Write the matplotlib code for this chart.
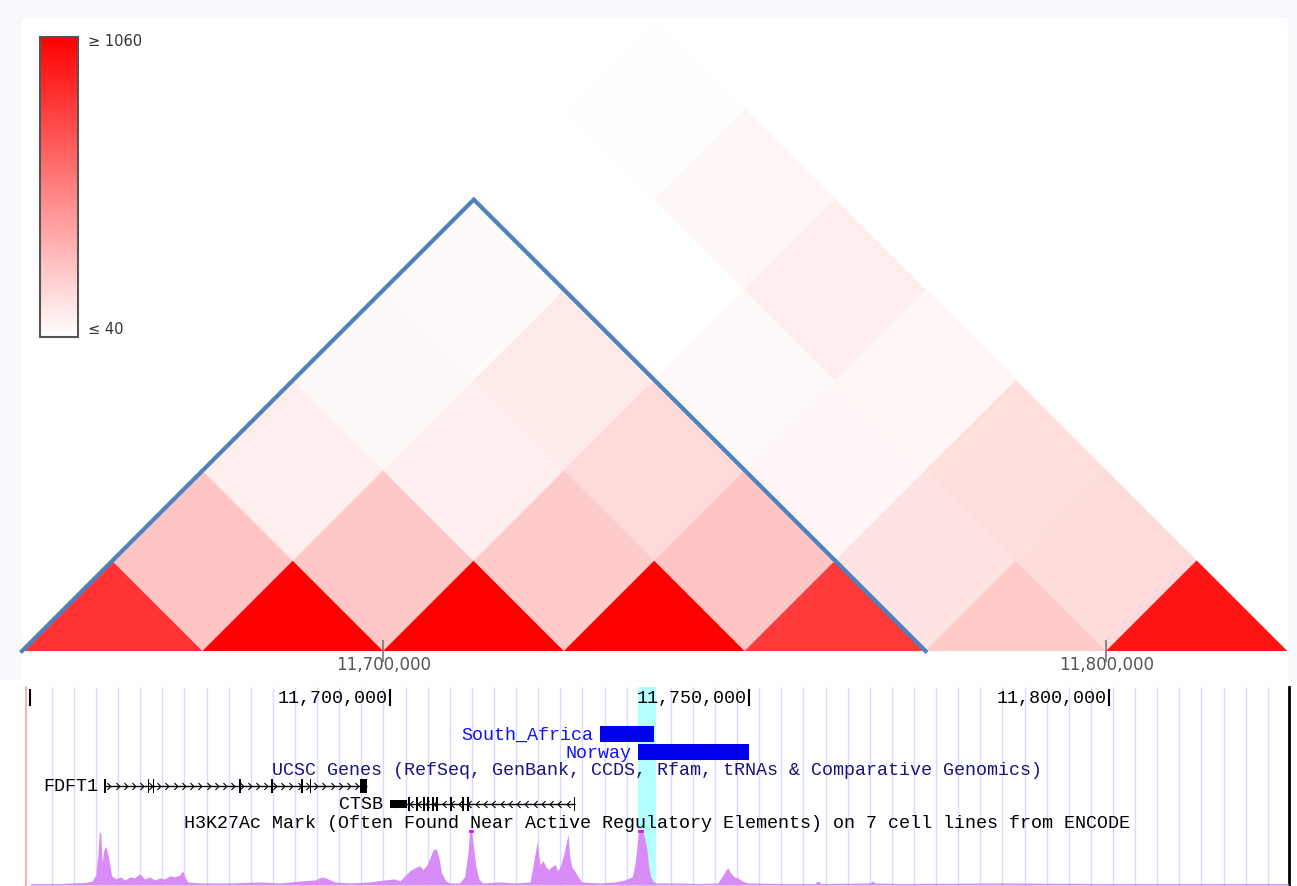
import numpy as np
import matplotlib
matplotlib.use("Agg")
import matplotlib.pyplot as plt
from matplotlib.cm import ScalarMappable
from matplotlib.collections import PolyCollection
from matplotlib.colors import LinearSegmentedColormap, Normalize
from matplotlib.patches import Rectangle
from matplotlib.path import Path
from matplotlib.ticker import FuncFormatter

W, H = 1297, 887

# contact map: 25 kb bins, upper triangle row by row (diagonal first)
bin_start = 11_650_000
bin_size = 25_000
contacts = [
    [856, 272, 108, 70, 62, 30, 50],
    [1240, 260, 108, 124, 35, 78],
    [1190, 254, 188, 62, 112],
    [1310, 272, 75, 78],
    [825, 156, 172],
    [254, 180],
    [980],
]
vmin, vmax = 40, 1060
tad_bins = (0, 4)
map_ticks = [11_700_000, 11_800_000]

# browser tracks
view = (11_649_400, 11_825_070)
ruler_ticks = [11_650_000, 11_700_000, 11_750_000, 11_800_000]
ruler_labels = ["", "11,700,000", "11,750,000", "11,800,000"]
highlight = (11_734_500, 11_737_000)
cnv_names = ["South_Africa", "Norway"]
cnv_starts = [11_729_200, 11_734_500]
cnv_ends = [11_736_800, 11_750_000]
genes_title = "UCSC Genes (RefSeq, GenBank, CCDS, Rfam, tRNAs & Comparative Genomics)"
fdft1_span = (11_660_400, 11_696_800)
fdft1_exons = [(11_660_300, 11_660_500), (11_666_350, 11_666_550),
               (11_667_050, 11_667_250), (11_679_050, 11_679_250),
               (11_683_500, 11_683_700), (11_687_700, 11_687_900),
               (11_688_850, 11_689_050), (11_695_900, 11_696_800)]
ctsb_span = (11_700_000, 11_725_700)
ctsb_utr = (11_700_000, 11_702_400)
ctsb_exons = [(11_702_550, 11_702_750), (11_703_680, 11_703_880),
              (11_704_650, 11_704_850), (11_705_200, 11_705_400),
              (11_705_900, 11_706_100), (11_706_450, 11_706_650),
              (11_708_400, 11_708_600), (11_710_070, 11_710_270),
              (11_710_770, 11_710_970), (11_725_600, 11_725_800)]
signal_title = ("H3K27Ac Mark (Often Found Near Active Regulatory Elements) "
                "on 7 cell lines from ENCODE")
signal_kb = [
    11650.0, 11654.1, 11657.6, 11658.6, 11659.1, 11659.4, 11659.6, 11659.8, 11660.0, 11660.2,
    11660.5, 11660.8, 11661.1, 11661.3, 11661.9, 11662.5, 11663.2, 11663.9, 11664.5, 11665.2,
    11665.9, 11666.6, 11667.3, 11668.0, 11668.7, 11669.4, 11670.1, 11670.8, 11671.2, 11671.5,
    11671.9, 11673.6, 11677.8, 11681.9, 11684.7, 11687.5, 11689.6, 11690.6, 11691.4, 11692.4,
    11694.5, 11697.2, 11699.3, 11700.7, 11701.4, 11702.1, 11702.8, 11703.5, 11704.2, 11704.6,
    11705.2, 11705.6, 11706.0, 11706.4, 11706.8, 11707.2, 11707.8, 11708.4, 11709.7, 11710.4,
    11710.9, 11711.1, 11711.3, 11711.6, 11712.0, 11712.4, 11712.9, 11715.3, 11717.4, 11719.5,
    11719.9, 11720.2, 11720.5, 11720.7, 11720.9, 11721.3, 11721.7, 11722.1, 11722.5, 11723.0,
    11723.4, 11723.8, 11724.2, 11724.5, 11724.8, 11725.0, 11725.3, 11725.7, 11726.2, 11726.7,
    11729.2, 11731.3, 11732.7, 11733.7, 11734.1, 11734.4, 11734.6, 11734.9, 11735.2, 11735.5,
    11735.8, 11736.0, 11736.3, 11736.6, 11737.0, 11740.3, 11743.1, 11745.6, 11746.2, 11746.7,
    11747.0, 11747.4, 11747.9, 11748.4, 11749.0, 11749.8, 11754.3, 11759.1, 11759.5, 11760.0,
    11766.8, 11767.1, 11767.5, 11771.0, 11784.9, 11798.8, 11812.7, 11825.0,
]
signal_val = [
    1.5, 1.5, 2.5, 4, 10, 30, 53, 50, 22, 34,
    38, 30, 18, 9, 6, 8, 5, 8, 7, 11,
    6, 8, 5, 7, 6, 9, 8, 10, 14, 8,
    3, 2, 2, 3, 2, 4, 5, 8, 6, 3,
    2, 3, 5, 6, 4, 9, 14, 17, 19, 15,
    20, 27, 34, 36, 28, 12, 4, 2, 2, 8,
    33, 53, 56, 40, 17, 6, 2, 3, 2, 3,
    18, 30, 43, 30, 20, 24, 18, 15, 18, 20,
    14, 20, 30, 40, 50, 30, 18, 14, 8, 3,
    2, 3, 5, 8, 20, 40, 53, 57, 52, 45,
    33, 18, 8, 4, 2, 2, 1.5, 2, 8, 14,
    17, 12, 8, 7, 4, 2, 1.5, 1.5, 4, 1.5,
    2, 4, 2, 1.5, 2, 1.5, 1.5, 1.5,
]
signal_max = 54

MONO = "Liberation Mono"


def fx(px):
    return px / W


def fy(py):
    return 1 - py / H


fig = plt.figure(figsize=(W / 100, H / 100), dpi=100)
fig.patch.set_facecolor("white")
fig.patches.append(Rectangle((0, fy(680)), 1, 1 - fy(680), transform=fig.transFigure,
                             color="#f8f9fc", zorder=-10))
fig.patches.append(Rectangle((fx(22), fy(680)), fx(1265), fy(20) - fy(680),
                             transform=fig.transFigure, color="white", zorder=-9))

# ---------- triangular contact map ----------
cmap = LinearSegmentedColormap.from_list("white_red", ["#ffffff", "#ff0000"])
norm = Normalize(vmin, vmax, clip=True)
n = len(contacts)
edges = bin_start + bin_size * np.arange(n + 1)

hm = fig.add_axes([fx(22), fy(652), fx(1265), fy(20) - fy(652)])
hm.set_facecolor("none")
polys, vals = [], []
for i, row in enumerate(contacts):
    for k, v in enumerate(row):
        j = i + k
        a0, a1, b0, b1 = edges[i], edges[i + 1], edges[j], edges[j + 1]
        if i == j:
            verts = [(a0, 0), ((a0 + a1) / 2, (a1 - a0) / 2), (a1, 0)]
        else:
            verts = [((a0 + b0) / 2, (b0 - a0) / 2), ((a1 + b0) / 2, (b0 - a1) / 2),
                     ((a1 + b1) / 2, (b1 - a1) / 2), ((a0 + b1) / 2, (b1 - a0) / 2)]
        polys.append(verts)
        vals.append(v)
pc = PolyCollection(polys, array=np.array(vals, dtype=float), cmap=cmap, norm=norm,
                    edgecolors="face", linewidths=0.3)
hm.add_collection(pc)

t0, t1 = edges[tad_bins[0]], edges[tad_bins[1] + 1]
hm.plot([t0, (t0 + t1) / 2, t1], [0, (t1 - t0) / 2, 0], color="#4f81bd", lw=3,
        solid_joinstyle="miter", clip_on=False, zorder=5)

hm.set_xlim(edges[0], edges[-1])
hm.set_ylim(0, (edges[-1] - edges[0]) / 2)
for s in hm.spines.values():
    s.set_visible(False)
hm.set_yticks([])
hm.set_xticks(map_ticks)
hm.xaxis.set_major_formatter(FuncFormatter(lambda x, _: f"{x:,.0f}"))
hm.tick_params(axis="x", direction="inout", length=16, width=1.2, color="#777777",
               labelcolor="#555555", labelsize=12, pad=-5)

# colour key
cax = fig.add_axes([fx(40), fy(338), fx(38), fy(38) - fy(338)])
cb = fig.colorbar(ScalarMappable(norm=norm, cmap=cmap), cax=cax)
cb.set_ticks([])
cb.outline.set_edgecolor("#555555")
cb.outline.set_linewidth(1.5)
cax.text(1.25, 0.99, f"\u2265 {vmax}", transform=cax.transAxes, ha="left", va="center",
         fontsize=10.5, color="#333333")
cax.text(1.25, 0.03, f"\u2264 {vmin}", transform=cax.transAxes, ha="left", va="center",
         fontsize=10.5, color="#333333")

# ---------- browser tracks ----------
tr = fig.add_axes([fx(26), 0, fx(1289 - 26), fy(688)])
tr.set_xlim(*view)
tr.set_ylim(199, 0)
tr.set_facecolor("none")
tr.set_xticks([])
tr.set_yticks([])
tr.spines["top"].set_visible(False)
tr.spines["bottom"].set_visible(False)
tr.spines["left"].set_color("#ff9f9f")
tr.spines["left"].set_linewidth(1.2)
tr.spines["right"].set_color("black")
tr.spines["right"].set_linewidth(2)

grid_x = np.arange(11_652_990, view[1], 3_075)
tr.vlines(grid_x, 0, 199, colors="#dadaff", lw=1, zorder=0)
tr.axvspan(*highlight, color="#b4ffff", lw=0, zorder=1)

for pos, lab in zip(ruler_ticks, ruler_labels):
    tr.vlines(pos, 2, 19, colors="black", lw=1.5, zorder=3)
    if lab:
        tr.text(pos - 300, 11, lab, ha="right", va="center", fontfamily=MONO,
                fontsize=13.2, color="black")

for k, (name, s, e) in enumerate(zip(cnv_names, cnv_starts, cnv_ends)):
    y = 47 + 18 * k
    tr.add_patch(Rectangle((s, y - 8), e - s, 16, color="#0000ee", lw=0, zorder=3))
    tr.text(s - 900, y, name, ha="right", va="center", fontfamily=MONO,
            fontsize=13.2, color="#1010ff")

mid = (view[0] + view[1]) / 2
tr.text(mid, 83, genes_title, ha="center", va="center", fontfamily=MONO,
        fontsize=13.2, color="#15157f")
tr.text(mid, 136, signal_title, ha="center", va="center", fontfamily=MONO,
        fontsize=13.2, color="black")

chev_r = Path([(-0.6, 1), (0.4, 0), (-0.6, -1)], [Path.MOVETO, Path.LINETO, Path.LINETO])
chev_l = Path([(0.6, 1), (-0.4, 0), (0.6, -1)], [Path.MOVETO, Path.LINETO, Path.LINETO])


def draw_gene(name, span, exons, y, chevron, utr=None):
    tr.hlines(y, *span, colors="black", lw=1, zorder=3)
    xs = np.arange(span[0] + 600, span[1] - 300, 1_150)
    tr.plot(xs, np.full(len(xs), y), ls="none", marker=chevron, ms=5, mew=0.8,
            mfc="none", mec="black", zorder=3)
    for s, e in exons:
        tr.add_patch(Rectangle((s, y - 7), e - s, 14, color="black", lw=0, zorder=4))
    if utr is not None:
        tr.add_patch(Rectangle((utr[0], y - 4), utr[1] - utr[0], 8, color="black",
                               lw=0, zorder=4))
    tr.text(span[0] - 1000, y, name, ha="right", va="center", fontfamily=MONO,
            fontsize=13.2, color="black")


draw_gene("FDFT1", fdft1_span, fdft1_exons, 99, chev_r)
draw_gene("CTSB", ctsb_span, ctsb_exons, 117, chev_l, utr=ctsb_utr)

# signal track
sig = fig.add_axes([fx(26), fy(886), fx(1289 - 26), fy(831) - fy(886)])
sig.set_xlim(*view)
sig.set_ylim(0, signal_max)
sig.axis("off")
sig_x = np.array(signal_kb) * 1000
sig_y = np.array(signal_val, dtype=float)
sig.fill_between(sig_x, 0, sig_y, color="#d88cf8", lw=0)
for x in sig_x[sig_y > signal_max]:
    sig.plot([x - 200, x + 200], [signal_max - 0.5] * 2, color="#ff00ff", lw=2,
             clip_on=False)

fig.savefig("out.png", dpi=100)
